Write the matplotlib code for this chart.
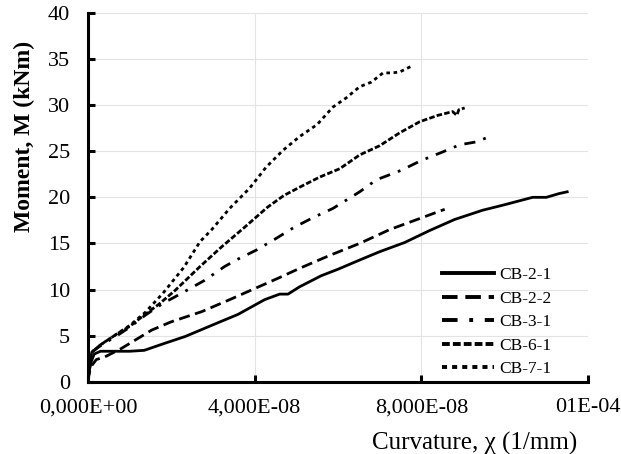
import numpy as np
import matplotlib
matplotlib.use("Agg")
import matplotlib.pyplot as plt

plt.rcParams['font.family'] = ['Liberation Serif', 'DejaVu Serif']

# curvature values given in units of 1e-8 1/mm, moment in kNm
cb21_x = [0, 0.03, 0.08, 0.15, 0.3, 0.6, 1.0, 1.35, 1.8, 2.33, 2.7, 3.12, 3.6, 4.24, 4.6, 4.8,
          5.08, 5.6, 6.0, 6.52, 7.0, 7.6, 8.2, 8.8, 9.47, 10.0, 10.67, 11.0, 11.3, 11.5]
cb21_y = [0, 1.2, 2.2, 3.0, 3.3, 3.3, 3.3, 3.4, 4.1, 4.9, 5.6, 6.4, 7.3, 8.9, 9.5, 9.5,
          10.3, 11.5, 12.2, 13.2, 14.1, 15.1, 16.4, 17.6, 18.6, 19.2, 20.0, 20.0, 20.4, 20.6]

cb22_x = [0, 0.03, 0.1, 0.2, 0.41, 0.8, 1.53, 2.0, 2.73, 3.4, 4.0, 4.6, 5.08, 5.8, 6.52, 7.24, 7.9, 8.56]
cb22_y = [0, 1.0, 1.8, 2.4, 2.7, 3.6, 5.6, 6.5, 7.6, 8.9, 10.1, 11.3, 12.3, 13.7, 15.0, 16.5, 17.6, 18.7]

cb31_x = [0, 0.03, 0.09, 0.3, 0.7, 1.0, 1.37, 1.8, 2.25, 2.8, 3.28, 3.6, 4.05, 4.5, 4.93, 5.4,
          5.88, 6.52, 6.92, 7.5, 8.0, 8.5, 8.92, 9.3, 9.59]
cb31_y = [0, 1.3, 3.2, 3.9, 5.0, 5.9, 7.2, 8.5, 9.6, 11.0, 12.5, 13.3, 14.3, 15.5, 16.7, 17.8,
          18.8, 20.6, 21.9, 22.9, 24.0, 24.9, 25.7, 26.0, 26.5]

cb61_x = [0, 0.03, 0.09, 0.3, 0.7, 1.0, 1.37, 1.7, 2.09, 2.69, 3.2, 3.77, 4.3, 4.7, 5.08, 5.56,
          6.04, 6.52, 7.0, 7.48, 7.96, 8.4, 8.75, 8.85, 8.9, 9.04]
cb61_y = [0, 1.3, 3.2, 4.0, 5.2, 6.0, 7.3, 8.4, 9.9, 12.5, 14.6, 16.8, 18.9, 20.2, 21.1, 22.2,
          23.1, 24.6, 25.6, 27.0, 28.2, 28.9, 29.3, 28.9, 29.5, 29.7]

cb71_x = [0, 0.03, 0.09, 0.3, 0.7, 1.0, 1.37, 1.8, 2.3, 2.69, 2.97, 3.4, 3.88, 4.28, 4.68, 5.08,
          5.5, 5.88, 6.2, 6.52, 6.8, 7.08, 7.3, 7.48, 7.75]
cb71_y = [0, 1.3, 3.2, 4.0, 5.2, 6.1, 7.5, 9.6, 12.4, 15.2, 16.5, 18.8, 21.0, 23.3, 25.1, 26.6,
          27.9, 29.8, 30.8, 32.0, 32.5, 33.5, 33.5, 33.6, 34.2]

labels = ['CB-2-1', 'CB-2-2', 'CB-3-1', 'CB-6-1', 'CB-7-1']
x_ticks = [0, 4e-8, 8e-8, 1.2e-7]
x_tick_labels = ['0,000E+00', '4,000E-08', '8,000E-08', '01E-04']
y_ticks = [0, 5, 10, 15, 20, 25, 30, 35, 40]

series = [(cb21_x, cb21_y), (cb22_x, cb22_y), (cb31_x, cb31_y), (cb61_x, cb61_y), (cb71_x, cb71_y)]
styles = ['-', (0, (4, 2)), (0, (4, 3, 1, 3)), (0, (2, 0.8)), (0, (1.3, 1.3))]

fig = plt.figure(figsize=(6.21, 4.54), dpi=100)
ax = fig.add_axes([0.1417, 0.1593, 0.8052, 0.8121])

for (xs, ys), ls, lab in zip(series, styles, labels):
    ax.plot(np.array(xs) * 1e-8, ys, color='black', linestyle=ls, linewidth=2.0,
            dash_capstyle='butt', label=lab)

ax.set_xlim(0, 1.2e-7)
ax.set_ylim(0, 40)
ax.set_xticks(x_ticks)
ax.set_xticklabels(x_tick_labels)
ax.set_yticks(y_ticks)
ax.grid(True, color='#e3e3e3', linewidth=0.8)
ax.set_axisbelow(True)

for side in ['top', 'right']:
    ax.spines[side].set_visible(False)
for side in ['left', 'bottom']:
    ax.spines[side].set_linewidth(2.2)

ax.tick_params(axis='both', direction='in', length=5, width=2.2, labelsize=16)
ax.tick_params(axis='y', pad=13)
ax.tick_params(axis='x', pad=12)

ax.set_xlabel('Curvature, χ (1/mm)', fontsize=18)
ax.xaxis.set_label_coords(0.774, -0.135)
ax.set_ylabel('Moment, M (kNm)', fontsize=17, fontweight='bold')
ax.yaxis.set_label_coords(-0.106, 0.666)

leg = ax.legend(loc='lower left', bbox_to_anchor=(0.707, 0.012), frameon=False, fontsize=12.5,
                handlelength=3.0, handletextpad=0.3, labelspacing=0.42,
                borderpad=0, borderaxespad=0)
for line in leg.get_lines():
    line.set_linewidth(2.8)

fig.savefig('out.png', dpi=100)
